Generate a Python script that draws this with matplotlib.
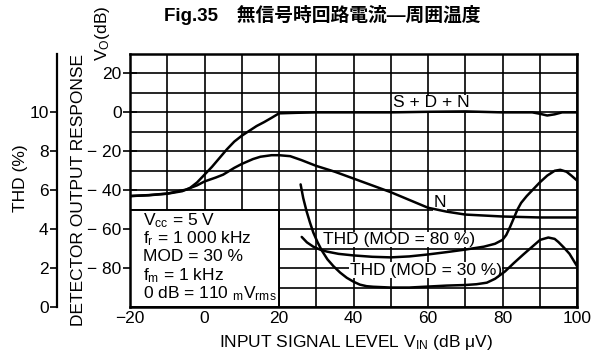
import numpy as np
import matplotlib.pyplot as plt
from matplotlib.patches import Rectangle

plt.rcParams['font.family'] = ['Liberation Sans', 'DejaVu Sans']
plt.rcParams['mathtext.fontset'] = 'custom'
plt.rcParams['mathtext.rm'] = 'Liberation Sans'
plt.rcParams['mathtext.it'] = 'Liberation Sans:italic'

# --- data (x: input level dBuV, y: Vo dB) ---
x_sdn = [-20, -15, -10, -6, -4, -2, 0, 2, 4, 6, 8, 10, 12, 14, 16, 18, 20,
         25, 30, 40, 50, 60, 70, 80, 88, 90, 92, 94, 96, 100]
y_sdn = [-43, -42.6, -41.8, -40.5, -39, -36, -32, -28, -23.5, -19, -15, -12,
         -9.5, -7, -5, -2.8, -0.5, -0.2, 0, 0, 0, 0.3, 0.5, 0, 0, -0.7, -1.6,
         -1, 0, 0]

x_n = [-20, -15, -10, -5, -2, 0, 3, 5, 8, 10, 13, 15, 18, 20, 23, 26, 30, 35,
       40, 45, 50, 55, 60, 65, 70, 80, 90, 100]
y_n = [-43, -42.5, -41.7, -39.7, -37.5, -35.5, -33.5, -32, -28.5, -26.5, -24,
       -22.8, -22, -22, -22.5, -24.5, -27.5, -30.5, -34, -37.5, -41, -45, -49,
       -51, -52.5, -53.5, -54, -54]

x_thd30 = [25.8, 26.5, 27.4, 28.3, 29.2, 30.3, 31.5, 33, 34.6, 36.4, 38.2, 40,
           41.7, 43.5, 45.3, 50, 55, 60, 65, 70, 73, 75.8, 78, 80.7, 83, 85.6,
           88, 90.1, 92.3, 94, 95, 96.5, 98, 100]
y_thd30 = [-37, -44, -50.8, -56.5, -61.7, -66.5, -71, -75.5, -79, -82.3, -85,
           -87, -88.5, -89.3, -89.6, -90, -90, -89.5, -89, -88.7, -88.3, -87.5,
           -85.5, -81.7, -77.5, -73, -69, -65.5, -64.3, -65, -66.6, -69.5,
           -72.7, -79]

x_thd80 = [26.1, 27.5, 29.2, 31, 32.8, 36, 40, 45, 50, 55, 60, 65, 70, 75, 78,
           80, 81, 82, 83, 84, 85, 86.5, 88, 90, 92, 94, 95.5, 97.2, 98.5, 100]
y_thd80 = [-64, -66.8, -69, -70.5, -71.5, -72.7, -73.5, -74.2, -74.5, -74,
           -73, -71.8, -70.5, -69, -67.5, -65.5, -63, -59, -54.5, -50, -46.5,
           -43, -40, -36, -32.5, -30, -29.5, -30.5, -32.5, -35]

x_ticks = [-20, 0, 20, 40, 60, 80, 100]
vo_ticks = [20, 0, -20, -40, -60, -80]
thd_ticks = [0, 2, 4, 6, 8, 10]
conditions = [r"V$_{\rm cc}$ = 5 V",
              r"f$_{\rm r}$ = 1 000 kHz",
              "MOD = 30 %",
              r"f$_{\rm m}$ = 1 kHz",
              r"0 dB = 110 $_{\rm m}$V$_{\rm rms}$"]

fig = plt.figure(figsize=(6.03, 3.52), dpi=100)
ax = fig.add_axes([130 / 603, 45 / 352, 447 / 603, 253 / 352])
ax.set_xlim(-20, 100)
ax.set_ylim(-100, 30)

# grid drawn by hand so the condition box can sit over it
for gx in np.arange(-20, 101, 10):
    ax.axvline(gx, color='black', lw=1.2, zorder=1)
for gy in np.arange(-100, 31, 10):
    ax.axhline(gy, color='black', lw=1.2, zorder=1)

ax.add_patch(Rectangle((-20, -100), 40, 50, facecolor='white',
                       edgecolor='black', lw=1.4, zorder=2))

for xs, ys in [(x_sdn, y_sdn), (x_n, y_n), (x_thd30, y_thd30), (x_thd80, y_thd80)]:
    ax.plot(xs, ys, color='black', lw=1.8, zorder=4, solid_capstyle='round')

for s in ax.spines.values():
    s.set_linewidth(1.8)

ax.set_xticks(x_ticks)
ax.set_xticklabels([str(t).replace('-', '\u2212') for t in x_ticks], fontsize=12.5)
ax.tick_params(axis='x', length=0, pad=3)
ax.set_yticks(vo_ticks)
ax.set_yticklabels([str(t).replace('-', '\u2212 ') for t in vo_ticks], fontsize=12.5)
ax.set_yticks([-50, -70, -90], minor=True)
ax.tick_params(axis='y', which='major', direction='inout', length=10, width=1.2, pad=1)
ax.tick_params(axis='y', which='minor', direction='in', length=5, width=1.2)
ax.tick_params(right=False, top=False)

# THD scale on the far left
thd = ax.secondary_yaxis(-73 / 447, functions=(lambda v: (v + 100) / 10,
                                               lambda t: t * 10 - 100))
thd.set_yticks(thd_ticks)
thd.tick_params(length=5, width=1.2, labelsize=12.5, pad=1)
thd.spines['left'].set_linewidth(1.6)

# curve labels
lbl = dict(fontsize=12.5, ha='center', va='center', zorder=3,
           bbox=dict(facecolor='white', edgecolor='none', pad=0.3))
ax.text(61, 5, "S + D + N", **lbl)
ax.text(63.2, -46.5, "N", **lbl)
ax.text(52.3, -65.3, "THD (MOD = 80 %)", **lbl)
ax.text(59.4, -81, "THD (MOD = 30 %)", **lbl)

for i, line in enumerate(conditions):
    ax.text(-16.5, -55.5 - i * 9.4, line, fontsize=12.5, ha='left', va='center', zorder=5)

fig.text(322 / 603, 1 - 15 / 352, "Fig.35\u3000無信号時回路電流\u2014周囲温度",
         family=['Liberation Sans', 'Noto Sans CJK JP'], fontsize=13.5,
         fontweight='bold', ha='center', va='center')
fig.text(103 / 603, 1 - 33 / 352, r"V$_{\rm O}$(dB)", rotation=90,
         fontsize=12.5, ha='center', va='center')
fig.text(79 / 603, 1 - 190 / 352, "DETECTOR OUTPUT RESPONSE", rotation=90,
         fontsize=12.5, ha='center', va='center')
fig.text(20 / 603, 1 - 178 / 352, "THD (%)", rotation=90,
         fontsize=12.5, ha='center', va='center')
fig.text(356 / 603, 1 - 342 / 352, r"INPUT SIGNAL LEVEL V$_{\rm IN}$ (dB μV)",
         fontsize=12.5, ha='center', va='center')

fig.savefig('out.png', dpi=100)
